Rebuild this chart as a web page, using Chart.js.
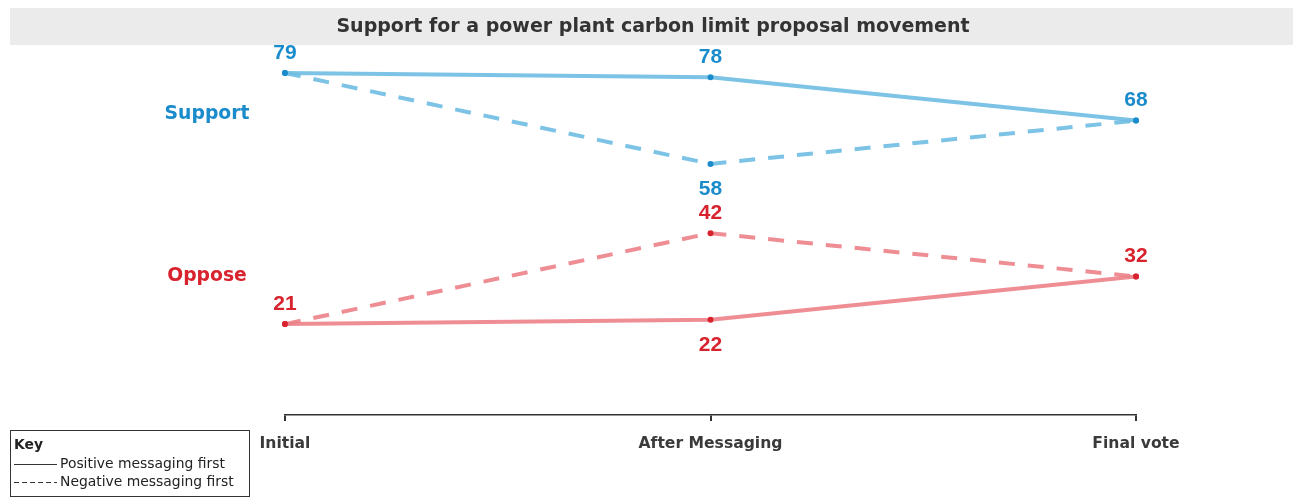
<!DOCTYPE html>
<html>
<head>
<meta charset="utf-8">
<script src="https://cdn.jsdelivr.net/npm/chart.js@4/dist/chart.umd.min.js"></script>
<style>
  html, body { margin: 0; padding: 0; background: #fff; }
  #wrap { width: 1293px; height: 499px; position: relative; }
</style>
</head>
<body>
<div id="wrap"><canvas id="line-chart" width="1293" height="499"></canvas></div>
<script>
const stages = ["Initial", "After Messaging", "Final vote"];
const supportPositive = [79, 78, 68];
const supportNegative = [79, 58, 68];
const opposePositive = [21, 22, 32];
const opposeNegative = [21, 42, 32];
// where each number sits: -1 above the point, 1 below, 0 none
const supportPosLabel = [-1, -1, -1];
const supportNegLabel = [0, 1, 0];
const opposePosLabel = [-1, 1, -1];
const opposeNegLabel = [0, -1, 0];

const blueText = "#1a8ccc";
const blueLine = "rgba(110, 188, 226, 0.9)";
const redText = "#d8232f";
const redLine = "rgba(236, 130, 136, 0.9)";
const FAM = "'DejaVu Sans', Verdana, sans-serif";
const NUMFAM = "'Liberation Sans', Arial, sans-serif";

// pick a font size so text spans about the width seen in the picture
const measurer = document.createElement("canvas").getContext("2d");
function fitSize(text, weight, width) {
  measurer.font = weight + " 100px " + FAM;
  return Math.round((100 * width / measurer.measureText(text).width) * 10) / 10;
}
const titleSize = fitSize("Support for a power plant carbon limit proposal movement", "bold", 632);
const sideSize = fitSize("Support", "bold", 85);
const tickSize = fitSize("After Messaging", "bold", 144);
const keySize = fitSize("Positive messaging first", "normal", 165);

function series(data, line, dot, dashed, labelPos, labelColor) {
  return {
    data: data,
    borderColor: line,
    borderWidth: 4,
    borderDash: dashed ? [16, 13] : [],
    pointRadius: 3,
    pointBackgroundColor: dot,
    pointBorderWidth: 0,
    fill: false,
    tension: 0,
    labelPos: labelPos,
    labelColor: labelColor,
  };
}

const decor = {
  id: "decor",
  beforeDraw(chart) {
    const c = chart.ctx;
    c.save();
    c.fillStyle = "#ebebeb";
    c.fillRect(10, 8, 1283, 37);
    c.fillStyle = "#333";
    c.font = "bold " + titleSize + "px " + FAM;
    c.textAlign = "center";
    c.textBaseline = "middle";
    c.fillText("Support for a power plant carbon limit proposal movement", 653, 27);
    c.restore();
  },
  afterDatasetsDraw(chart) {
    const c = chart.ctx;
    c.save();
    c.font = "bold " + sideSize + "px " + FAM;
    c.textAlign = "center";
    c.textBaseline = "middle";
    c.fillStyle = blueText;
    c.fillText("Support", 207, 114);
    c.fillStyle = redText;
    c.fillText("Oppose", 207, 276);

    c.font = "bold 21px " + NUMFAM;
    chart.data.datasets.forEach((ds, i) => {
      const meta = chart.getDatasetMeta(i);
      meta.data.forEach((pt, j) => {
        const pos = ds.labelPos[j];
        if (!pos) return;
        c.fillStyle = ds.labelColor;
        c.fillText(String(ds.data[j]), pt.x, pt.y + (pos < 0 ? -20 : 25));
      });
    });

    // key box
    c.strokeStyle = "#333";
    c.lineWidth = 1;
    c.strokeRect(10.5, 430.5, 239, 66);
    c.fillStyle = "#222";
    c.textAlign = "left";
    c.font = "bold " + keySize + "px " + FAM;
    c.fillText("Key", 14, 445);
    c.font = keySize + "px " + FAM;
    c.fillText("Positive messaging first", 60, 464);
    c.fillText("Negative messaging first", 60, 482);
    c.beginPath();
    c.moveTo(14, 464.5);
    c.lineTo(57, 464.5);
    c.stroke();
    c.setLineDash([5, 3]);
    c.beginPath();
    c.moveTo(14, 482.5);
    c.lineTo(57, 482.5);
    c.stroke();
    c.restore();
  },
};

const ctx = document.getElementById("line-chart");
const chart = new Chart(ctx, {
  type: "line",
  data: {
    labels: stages,
    datasets: [
      series(supportPositive, blueLine, blueText, false, supportPosLabel, blueText),
      series(supportNegative, blueLine, blueText, true, supportNegLabel, blueText),
      series(opposePositive, redLine, redText, false, opposePosLabel, redText),
      series(opposeNegative, redLine, redText, true, opposeNegLabel, redText),
    ],
  },
  options: {
    responsive: false,
    animation: false,
    layout: { padding: { left: 285, right: 157, top: 47, bottom: 0 } },
    plugins: { legend: { display: false }, tooltip: { enabled: false } },
    scales: {
      x: {
        offset: false,
        grid: { display: true, drawOnChartArea: false, drawTicks: true, tickLength: 6, color: "#333", lineWidth: 2 },
        border: { display: true, color: "#333", width: 1.5 },
        ticks: {
          color: "#3a3a3a",
          font: { family: FAM, weight: "bold", size: tickSize },
          padding: 14,
          maxRotation: 0,
        },
        afterFit(scale) { scale.height = 84; },
      },
      y: { display: false, min: 0, max: 85 },
    },
  },
  plugins: [decor],
});
</script>
</body>
</html>
